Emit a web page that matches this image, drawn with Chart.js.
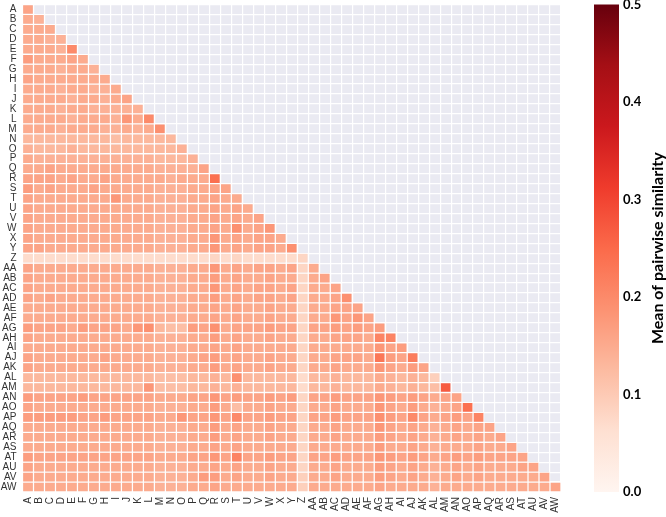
<!DOCTYPE html>
<html>
<head>
<meta charset="utf-8">
<script src="https://cdn.jsdelivr.net/npm/chart.js@4/dist/chart.umd.min.js"></script>
<style>
  html, body { margin: 0; padding: 0; background: #fff; }
  canvas { display: block; }
</style>
</head>
<body>
<canvas id="heat" width="666" height="517"></canvas>
<script>
// Row / column names (lower triangle, row i has i+1 values)
const names = ["A","B","C","D","E","F","G","H","I","J","K","L","M","N","O","P","Q","R","S","T","U","V","W","X","Y","Z",
  "AA","AB","AC","AD","AE","AF","AG","AH","AI","AJ","AK","AL","AM","AN","AO","AP","AQ","AR","AS","AT","AU","AV","AW"];

// Mean of pairwise similarity
const similarity = [
  [0.16],
  [0.15,0.14],
  [0.15,0.15,0.15],
  [0.15,0.15,0.14,0.14],
  [0.15,0.15,0.15,0.14,0.20],
  [0.17,0.15,0.15,0.15,0.16,0.15],
  [0.15,0.15,0.15,0.14,0.15,0.15,0.14],
  [0.16,0.15,0.15,0.15,0.15,0.15,0.15,0.15],
  [0.15,0.15,0.15,0.14,0.15,0.15,0.14,0.14,0.15],
  [0.15,0.15,0.15,0.15,0.14,0.15,0.15,0.14,0.15,0.16],
  [0.15,0.15,0.15,0.14,0.15,0.15,0.14,0.14,0.14,0.14,0.14],
  [0.15,0.15,0.15,0.15,0.14,0.15,0.15,0.15,0.14,0.18,0.15,0.20],
  [0.15,0.15,0.15,0.14,0.15,0.15,0.15,0.14,0.14,0.15,0.14,0.15,0.19],
  [0.13,0.13,0.13,0.13,0.13,0.13,0.13,0.13,0.12,0.13,0.13,0.13,0.13,0.13],
  [0.14,0.13,0.13,0.13,0.14,0.13,0.13,0.13,0.13,0.13,0.13,0.13,0.13,0.13,0.14],
  [0.15,0.14,0.14,0.14,0.14,0.14,0.14,0.14,0.14,0.14,0.14,0.14,0.13,0.13,0.13,0.14],
  [0.15,0.15,0.16,0.15,0.15,0.15,0.15,0.15,0.15,0.15,0.15,0.15,0.14,0.14,0.14,0.14,0.16],
  [0.16,0.16,0.16,0.15,0.16,0.15,0.15,0.16,0.15,0.15,0.15,0.15,0.15,0.14,0.15,0.15,0.15,0.24],
  [0.17,0.15,0.16,0.15,0.15,0.15,0.16,0.15,0.15,0.15,0.15,0.15,0.14,0.14,0.14,0.15,0.15,0.16,0.16],
  [0.16,0.15,0.15,0.15,0.15,0.15,0.15,0.15,0.18,0.15,0.15,0.15,0.14,0.14,0.14,0.15,0.15,0.16,0.15,0.15],
  [0.16,0.15,0.15,0.15,0.15,0.15,0.15,0.15,0.15,0.15,0.15,0.15,0.14,0.14,0.14,0.15,0.15,0.16,0.15,0.16,0.15],
  [0.16,0.15,0.15,0.15,0.15,0.15,0.15,0.15,0.15,0.15,0.15,0.15,0.14,0.14,0.14,0.15,0.15,0.16,0.15,0.16,0.15,0.16],
  [0.16,0.15,0.15,0.15,0.15,0.15,0.15,0.15,0.15,0.15,0.15,0.15,0.14,0.14,0.14,0.15,0.15,0.16,0.15,0.19,0.15,0.16,0.18],
  [0.16,0.15,0.15,0.15,0.15,0.15,0.15,0.15,0.15,0.15,0.15,0.15,0.14,0.14,0.14,0.15,0.15,0.18,0.15,0.16,0.15,0.16,0.16,0.15],
  [0.16,0.16,0.15,0.15,0.15,0.15,0.15,0.15,0.15,0.15,0.15,0.15,0.14,0.14,0.14,0.15,0.15,0.18,0.15,0.16,0.15,0.16,0.16,0.15,0.19],
  [0.07,0.07,0.07,0.07,0.07,0.07,0.07,0.07,0.07,0.07,0.07,0.07,0.07,0.07,0.07,0.07,0.07,0.08,0.07,0.08,0.07,0.07,0.07,0.07,0.07,0.08],
  [0.16,0.15,0.15,0.15,0.15,0.15,0.15,0.15,0.15,0.15,0.15,0.15,0.14,0.14,0.14,0.15,0.15,0.18,0.15,0.16,0.15,0.16,0.16,0.15,0.16,0.08,0.15],
  [0.16,0.15,0.15,0.15,0.15,0.15,0.15,0.15,0.15,0.15,0.15,0.15,0.14,0.14,0.14,0.15,0.15,0.17,0.15,0.16,0.15,0.15,0.16,0.15,0.15,0.08,0.15,0.16],
  [0.16,0.15,0.15,0.15,0.15,0.15,0.15,0.15,0.15,0.15,0.15,0.15,0.14,0.14,0.14,0.15,0.15,0.18,0.15,0.16,0.15,0.16,0.16,0.15,0.16,0.08,0.15,0.15,0.16],
  [0.16,0.15,0.16,0.15,0.15,0.15,0.15,0.15,0.15,0.15,0.15,0.15,0.14,0.14,0.14,0.15,0.15,0.17,0.15,0.16,0.15,0.16,0.16,0.15,0.16,0.08,0.15,0.15,0.16,0.19],
  [0.15,0.15,0.15,0.15,0.15,0.15,0.15,0.15,0.15,0.15,0.15,0.15,0.14,0.14,0.14,0.15,0.15,0.16,0.15,0.16,0.15,0.15,0.16,0.15,0.15,0.08,0.15,0.15,0.16,0.16,0.16],
  [0.15,0.15,0.15,0.15,0.15,0.15,0.15,0.15,0.15,0.15,0.15,0.15,0.14,0.14,0.14,0.15,0.15,0.16,0.15,0.16,0.15,0.15,0.16,0.15,0.15,0.08,0.15,0.15,0.18,0.16,0.18,0.16],
  [0.17,0.16,0.16,0.16,0.15,0.17,0.16,0.16,0.16,0.15,0.18,0.19,0.13,0.12,0.12,0.17,0.16,0.19,0.15,0.16,0.16,0.16,0.17,0.16,0.16,0.08,0.16,0.16,0.17,0.16,0.17,0.16,0.17],
  [0.16,0.15,0.15,0.15,0.15,0.15,0.15,0.15,0.15,0.15,0.15,0.15,0.14,0.14,0.14,0.15,0.15,0.17,0.15,0.16,0.15,0.15,0.16,0.15,0.15,0.08,0.15,0.15,0.16,0.16,0.16,0.15,0.21,0.21],
  [0.15,0.15,0.15,0.15,0.15,0.15,0.15,0.15,0.15,0.15,0.15,0.15,0.14,0.14,0.14,0.15,0.15,0.16,0.15,0.16,0.15,0.15,0.15,0.15,0.15,0.08,0.15,0.15,0.15,0.15,0.15,0.15,0.18,0.16,0.17],
  [0.16,0.15,0.15,0.15,0.15,0.15,0.15,0.16,0.15,0.15,0.15,0.15,0.14,0.14,0.14,0.15,0.16,0.17,0.15,0.16,0.15,0.15,0.16,0.15,0.15,0.08,0.15,0.15,0.16,0.16,0.16,0.15,0.23,0.17,0.16,0.22],
  [0.16,0.15,0.15,0.15,0.15,0.15,0.15,0.15,0.15,0.15,0.15,0.15,0.14,0.14,0.14,0.15,0.15,0.17,0.15,0.16,0.15,0.15,0.16,0.15,0.15,0.08,0.15,0.15,0.16,0.15,0.15,0.15,0.18,0.16,0.15,0.17,0.16],
  [0.13,0.13,0.13,0.13,0.13,0.13,0.13,0.13,0.13,0.13,0.13,0.13,0.12,0.12,0.12,0.13,0.13,0.14,0.13,0.19,0.13,0.13,0.13,0.13,0.13,0.07,0.13,0.13,0.14,0.13,0.13,0.13,0.15,0.14,0.13,0.14,0.13,0.09],
  [0.13,0.13,0.13,0.13,0.13,0.13,0.13,0.13,0.13,0.13,0.13,0.18,0.12,0.12,0.12,0.13,0.13,0.14,0.13,0.14,0.13,0.13,0.13,0.13,0.13,0.07,0.13,0.13,0.14,0.13,0.13,0.13,0.15,0.14,0.13,0.14,0.13,0.12,0.27],
  [0.17,0.16,0.16,0.16,0.16,0.17,0.16,0.16,0.16,0.16,0.16,0.16,0.15,0.15,0.15,0.16,0.16,0.18,0.16,0.17,0.16,0.16,0.17,0.16,0.17,0.08,0.16,0.16,0.17,0.16,0.16,0.16,0.18,0.17,0.16,0.17,0.16,0.15,0.16,0.16],
  [0.16,0.15,0.15,0.15,0.15,0.15,0.15,0.15,0.15,0.15,0.15,0.15,0.14,0.14,0.14,0.15,0.15,0.17,0.15,0.12,0.15,0.15,0.16,0.15,0.15,0.08,0.15,0.15,0.16,0.15,0.15,0.15,0.18,0.16,0.15,0.17,0.15,0.14,0.15,0.16,0.24],
  [0.17,0.17,0.17,0.17,0.17,0.16,0.16,0.17,0.16,0.16,0.16,0.16,0.15,0.15,0.18,0.16,0.16,0.18,0.16,0.20,0.16,0.16,0.17,0.16,0.16,0.08,0.16,0.16,0.17,0.16,0.16,0.16,0.19,0.17,0.16,0.20,0.16,0.15,0.16,0.17,0.16,0.21],
  [0.15,0.15,0.15,0.15,0.15,0.15,0.15,0.15,0.15,0.15,0.15,0.15,0.14,0.14,0.14,0.15,0.15,0.17,0.15,0.16,0.15,0.15,0.16,0.15,0.15,0.08,0.15,0.15,0.16,0.15,0.15,0.15,0.18,0.16,0.15,0.16,0.15,0.14,0.15,0.16,0.15,0.16,0.16],
  [0.15,0.15,0.15,0.15,0.15,0.15,0.15,0.15,0.15,0.15,0.15,0.15,0.14,0.14,0.14,0.15,0.15,0.17,0.15,0.16,0.15,0.15,0.16,0.15,0.15,0.08,0.15,0.15,0.16,0.15,0.15,0.15,0.17,0.16,0.15,0.16,0.15,0.14,0.15,0.16,0.15,0.16,0.15,0.16],
  [0.15,0.15,0.15,0.15,0.15,0.15,0.15,0.15,0.15,0.15,0.15,0.15,0.14,0.14,0.14,0.15,0.15,0.16,0.15,0.16,0.15,0.15,0.15,0.15,0.15,0.08,0.15,0.15,0.15,0.15,0.15,0.15,0.17,0.15,0.15,0.16,0.15,0.14,0.15,0.15,0.15,0.16,0.15,0.15,0.16],
  [0.17,0.16,0.16,0.16,0.16,0.16,0.16,0.16,0.16,0.16,0.16,0.16,0.15,0.15,0.15,0.16,0.16,0.18,0.16,0.21,0.16,0.16,0.17,0.16,0.16,0.08,0.16,0.16,0.17,0.16,0.16,0.16,0.18,0.17,0.16,0.17,0.16,0.15,0.16,0.17,0.16,0.17,0.16,0.16,0.16,0.16],
  [0.16,0.15,0.15,0.15,0.15,0.15,0.15,0.15,0.15,0.15,0.15,0.15,0.14,0.14,0.14,0.15,0.15,0.16,0.15,0.16,0.15,0.15,0.16,0.15,0.15,0.08,0.15,0.15,0.16,0.15,0.15,0.15,0.17,0.16,0.15,0.16,0.15,0.14,0.15,0.16,0.15,0.16,0.15,0.15,0.15,0.16,0.16],
  [0.16,0.15,0.15,0.15,0.15,0.15,0.15,0.15,0.15,0.15,0.15,0.15,0.14,0.14,0.14,0.15,0.17,0.17,0.15,0.16,0.15,0.15,0.16,0.15,0.15,0.09,0.15,0.15,0.16,0.15,0.15,0.15,0.17,0.16,0.15,0.16,0.15,0.14,0.15,0.16,0.15,0.16,0.15,0.15,0.15,0.15,0.15,0.16],
  [0.15,0.15,0.15,0.15,0.15,0.15,0.15,0.15,0.15,0.15,0.15,0.15,0.14,0.14,0.14,0.15,0.15,0.16,0.15,0.15,0.15,0.15,0.15,0.15,0.15,0.09,0.15,0.15,0.15,0.15,0.15,0.15,0.16,0.15,0.15,0.15,0.15,0.14,0.15,0.15,0.15,0.15,0.15,0.15,0.15,0.15,0.15,0.15,0.16]
];

// colour bar range and ticks
const vmin = 0, vmax = 0.5;
const cbTicks = [0.0, 0.1, 0.2, 0.3, 0.4, 0.5];

// matplotlib "Reds"
const redsStops = ["#fff5f0","#fee0d2","#fcbba1","#fc9272","#fb6a4a","#ef3b2c","#cb181d","#a50f15","#67000d"];

function hexToRgb(h) {
  return [parseInt(h.slice(1, 3), 16), parseInt(h.slice(3, 5), 16), parseInt(h.slice(5, 7), 16)];
}
const redsRgb = redsStops.map(hexToRgb);

function reds(v) {
  let t = (v - vmin) / (vmax - vmin);
  t = Math.max(0, Math.min(1, t)) * (redsRgb.length - 1);
  const i = Math.min(Math.floor(t), redsRgb.length - 2);
  const f = t - i;
  const a = redsRgb[i], b = redsRgb[i + 1];
  const c = a.map((x, k) => Math.round(x + (b[k] - x) * f));
  return "rgb(" + c.join(",") + ")";
}

// one dataset per row, each cell a floating bar spanning its row
const datasets = similarity.map((row, r) => ({
  label: names[r],
  data: row.map(() => [r - 0.5, r + 0.5]),
  backgroundColor: row.map(reds),
  borderColor: "#ffffff",
  borderWidth: 0.65,
  borderSkipped: false,
  inflateAmount: 0,
  grouped: false,
  categoryPercentage: 1,
  barPercentage: 1
}));

// grey background for the masked upper triangle, and the colour bar
const heatmapExtras = {
  id: "heatmapExtras",
  beforeDraw(chart) {
    const a = chart.chartArea, ctx = chart.ctx;
    ctx.save();
    ctx.fillStyle = "#eaeaf2";
    ctx.fillRect(a.left, a.top, a.right - a.left, a.bottom - a.top);
    ctx.restore();
  },
  afterDraw(chart) {
    const ctx = chart.ctx, cb = chart.scales.cb;
    const yTop = cb.getPixelForValue(vmax), yBot = cb.getPixelForValue(vmin);
    const x0 = cb.left + 33, w = 25;
    const g = ctx.createLinearGradient(0, yBot, 0, yTop);
    redsStops.forEach((c, i) => g.addColorStop(i / (redsStops.length - 1), c));
    ctx.save();
    ctx.fillStyle = g;
    ctx.fillRect(x0, yTop, w, yBot - yTop);
    // colour bar title, reads bottom to top
    ctx.translate(chart.width - 8, (yTop + yBot) / 2);
    ctx.rotate(-Math.PI / 2);
    ctx.fillStyle = "#000";
    ctx.font = "bold 16px Lato";
    ctx.textAlign = "center";
    ctx.textBaseline = "middle";
    ctx.fillText("Mean of pairwise similarity", 0, 0);
    ctx.restore();
  }
};

const ctx = document.getElementById("heat").getContext("2d");
new Chart(ctx, {
  type: "bar",
  data: { labels: names, datasets: datasets },
  plugins: [heatmapExtras],
  options: {
    responsive: false,
    animation: false,
    layout: { padding: { left: 0, right: 0, top: 4.5, bottom: 0 } },
    plugins: { legend: { display: false }, tooltip: { enabled: false } },
    scales: {
      x: {
        type: "category",
        offset: true,
        grid: { offset: true, color: "#ffffff", lineWidth: 1.2, drawTicks: false },
        border: { display: false },
        ticks: {
          autoSkip: false, minRotation: 90, maxRotation: 90, padding: 5,
          color: "#333", font: { family: "Liberation Sans", size: 10 }
        },
        afterFit(scale) {
          scale.height = 25;
          scale.paddingLeft = 0;
          scale.paddingRight = 0;
        }
      },
      y: {
        type: "linear", display: false, reverse: true,
        min: -0.5, max: names.length - 0.5
      },
      yl: {
        type: "category", labels: names, position: "left", offset: true,
        grid: { offset: true, color: "#ffffff", lineWidth: 1.2, drawTicks: false },
        border: { display: false },
        ticks: {
          autoSkip: false, padding: 6,
          color: "#333", font: { family: "Liberation Sans", size: 10 }
        },
        afterFit(scale) {
          scale.width = 22.5;
          scale.paddingTop = 0;
          scale.paddingBottom = 0;
        }
      },
      cb: {
        type: "linear", position: "right", min: vmin, max: vmax,
        grid: { display: false, drawTicks: false },
        border: { display: false },
        afterBuildTicks(scale) { scale.ticks = cbTicks.map(v => ({ value: v })); },
        ticks: {
          padding: 62, color: "#000",
          font: { family: "Lato", size: 13, weight: "bold" },
          callback: v => v.toFixed(1)
        },
        afterFit(scale) {
          scale.width = 105;
          scale.paddingTop = 0;
          scale.paddingBottom = 0;
        }
      }
    }
  }
});
</script>
</body>
</html>
